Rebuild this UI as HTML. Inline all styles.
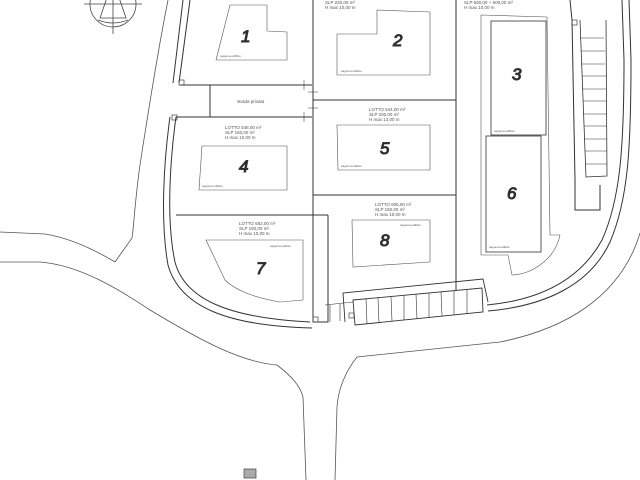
<!DOCTYPE html>
<html><head><meta charset="utf-8"><style>
html,body{margin:0;padding:0;background:#fff;width:640px;height:480px;overflow:hidden}
svg{display:block}
.t{font-family:"Liberation Sans",sans-serif;font-size:4.5px;fill:#555}
.n{font-family:"Liberation Sans",sans-serif;font-size:17px;font-style:italic;font-weight:normal;fill:#222}
</style></head><body>
<svg width="640" height="480" viewBox="0 0 640 480" xmlns="http://www.w3.org/2000/svg" fill="none" stroke="#333">
<g stroke="#444" stroke-width="0.8">
<circle cx="113" cy="4" r="23"/>
<line x1="113" y1="-20" x2="113" y2="34"/>
<line x1="84" y1="4" x2="142" y2="4"/>
<path d="M100 18 L113 -20 L126 18 Z"/>
<path d="M98 20 Q113 26 128 20"/>
</g>
<g stroke="#555" stroke-width="0.8">
<path d="M168 0 C160 40 150 100 140 165 C135 200 134 225 132 238 L115 262"/>
<path d="M0 232 L45 234 C70 238 95 250 115 262"/>
<path d="M0 262 L40 262 C80 265 120 290 150 310 C200 340 240 362 277 365 C290 375 300 385 303 397 L306 480"/>
<path d="M640 233 C620 300 560 330 500 342 L357 357 C345 372 338 390 337 407 L335 480"/>
</g>
<g stroke="#333" stroke-width="1">
<path d="M190 0 L179 83 M183 0 L173 83"/>
<path d="M176 117 C170 160 166 220 175 262 C185 300 230 318 310 322"/>
<path d="M170 117 C164 160 160 220 168 265 C180 308 230 326 312 328"/>
<path d="M313 305 L313 322 L328 322 L328 305"/>
<path d="M487 305 C540 300 580 280 602 240 C620 200 624 150 624 60 L622 0"/>
<path d="M488 311 C545 306 590 285 610 242 C628 200 631 150 631 60 L629 0"/>
<path d="M570 0 L572 20 L575 180 L575 210 L600 210 L600 185"/>
</g>
<g stroke="#444" stroke-width="0.7" fill="none">
<rect x="179" y="80" width="5" height="5"/>
<rect x="172" y="115" width="5" height="5"/>
<rect x="313" y="317" width="5" height="5"/>
<rect x="349" y="313" width="5" height="5"/>
<rect x="572" y="20" width="5" height="5"/>
</g>
<g stroke="#333" stroke-width="0.9">
<path d="M345 322 L343 293 L483 279 L488 302"/>
<path d="M353 300 L482 288 L483 312 L355 325 Z"/>
<g stroke-width="0.6">
<path d="M366 299 L367 324 M378 298 L379 323 M391 297 L392 321 M404 296 L404 320 M416 294 L417 319 M429 293 L429 318 M441 292 L442 316 M454 291 L454 315 M467 290 L467 314"/>
<path d="M325 305 L353 302 M330 305 L330 322 M340 304 L340 321"/>
</g>
</g>
<g stroke="#333" stroke-width="0.8">
<path d="M580 20 L586 177 L607 176 L606 20"/>
<path stroke-width="0.6" d="M580 38 L604 38 M581 51 L605 51 M581 64 L605 64 M582 76 L606 76 M582 89 L606 89 M583 101 L607 101 M583 114 L607 114 M584 126 L607 126 M584 139 L607 139 M585 151 L607 151 M585 164 L607 164"/>
</g>
<g stroke="#333" stroke-width="1">
<line x1="313" y1="0" x2="313" y2="305"/>
<line x1="456" y1="0" x2="456" y2="290"/>
<line x1="180" y1="85" x2="312" y2="85"/>
<line x1="176" y1="117" x2="312" y2="117"/>
<line x1="313" y1="100" x2="456" y2="100"/>
<line x1="313" y1="195" x2="456" y2="195"/>
<line x1="176" y1="215" x2="328" y2="215"/>
<line x1="328" y1="215" x2="328" y2="305"/>
<line x1="210" y1="85" x2="210" y2="117"/>
<path stroke-width="0.5" d="M304 80 L304 90 M304 112 L304 122 M308 92 L318 92 M308 108 L318 108"/>
</g>
<g stroke="#555" stroke-width="0.6">
<path d="M230 5 L267 5 L267 31 L287 32 L287 60 L216 60 Z"/>
<path d="M337 34 L377 34 L377 10 L430 12 L430 75 L337 75 Z"/>
<path d="M337 125 L430 125 L430 170 L338 170 Z"/>
<path d="M202 146 L287 146 L287 190 L199 190 Z"/>
<path d="M352 220 L430 220 L430 262 L353 267 Z"/>
<path d="M206 240 L303 240 L303 300 L280 302 C255 298 235 290 225 280 Z"/>
<path d="M481 15 L547 17 L550 235 L560 235 C555 260 530 275 512 275 L508 255 L481 255 Z"/>
</g>
<g stroke="#333" stroke-width="0.8">
<rect x="491" y="21" width="55" height="114"/>
<rect x="486" y="136" width="55" height="116"/>
</g>
<text class="n" x="241" y="42">1</text>
<text class="n" x="393" y="46">2</text>
<text class="n" x="512" y="80">3</text>
<text class="n" x="239" y="172">4</text>
<text class="n" x="380" y="154">5</text>
<text class="n" x="507" y="199">6</text>
<text class="n" x="256" y="274">7</text>
<text class="n" x="380" y="246">8</text>
<g stroke="none">
<text class="t" x="325" y="4">SLP 220,00 m²</text>
<text class="t" x="325" y="9">H max 10,00 m</text>
<text class="t" x="464" y="4">SLP 600,00 + 600,00 m²</text>
<text class="t" x="464" y="9">H max 10,00 m</text>
<text class="t" x="237" y="103">strada privata</text>
<text class="t" x="369" y="111">LOTTO 544,00 m²</text>
<text class="t" x="369" y="116">SLP 200,00 m²</text>
<text class="t" x="369" y="121">H max 13,00 m</text>
<text class="t" x="225" y="129">LOTTO 548,00 m²</text>
<text class="t" x="225" y="134">SLP 150,00 m²</text>
<text class="t" x="225" y="139">H max 10,00 m</text>
<text class="t" x="375" y="206">LOTTO 605,00 m²</text>
<text class="t" x="375" y="211">SLP 150,00 m²</text>
<text class="t" x="375" y="216">H max 10,00 m</text>
<text class="t" x="239" y="225">LOTTO 682,00 m²</text>
<text class="t" x="239" y="230">SLP 190,00 m²</text>
<text class="t" x="239" y="235">H max 10,00 m</text>
<text class="t" x="220" y="57" style="font-size:3px">sagoma edificio</text>
<text class="t" x="341" y="72" style="font-size:3px">sagoma edificio</text>
<text class="t" x="494" y="132" style="font-size:3px">sagoma edificio</text>
<text class="t" x="341" y="167" style="font-size:3px">sagoma edificio</text>
<text class="t" x="202" y="187" style="font-size:3px">sagoma edificio</text>
<text class="t" x="489" y="248" style="font-size:3px">sagoma edificio</text>
<text class="t" x="400" y="226" style="font-size:3px">sagoma edificio</text>
<text class="t" x="270" y="247" style="font-size:3px">sagoma edificio</text>
</g>
<rect x="244" y="469" width="12" height="9" fill="#aaa" stroke="#444" stroke-width="0.7"/>
</svg>
</body></html>
